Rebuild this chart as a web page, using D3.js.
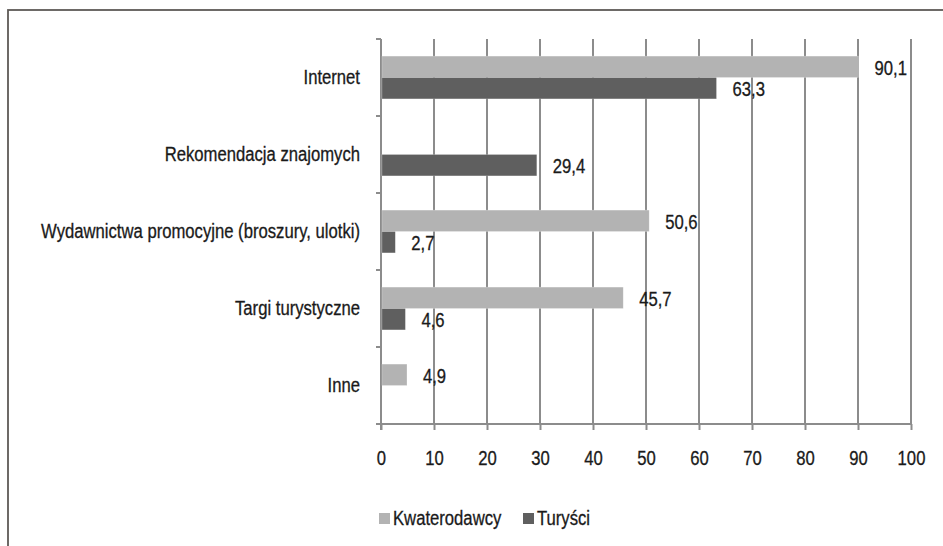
<!DOCTYPE html>
<html>
<head>
<meta charset="utf-8">
<script src="https://cdn.jsdelivr.net/npm/d3@7"></script>
<style>
  html, body { margin: 0; padding: 0; background: #fff; }
  svg { display: block; }
  text { font-family: "Liberation Sans", Arial, sans-serif; fill: #1a1a1a; stroke: #1a1a1a; stroke-width: 0.3px; }
</style>
</head>
<body>
<svg id="chart" width="943" height="546"></svg>
<script>
const categories = ["Internet", "Rekomendacja znajomych", "Wydawnictwa promocyjne (broszury, ulotki)", "Targi turystyczne", "Inne"];
const seriesNames = ["Kwaterodawcy", "Turyści"];
const kwaterodawcy = [90.1, null, 50.6, 45.7, 4.9];
const turysci = [63.3, 29.4, 2.7, 4.6, null];
const xTickValues = [0, 10, 20, 30, 40, 50, 60, 70, 80, 90, 100];

const colors = { "Kwaterodawcy": "#b3b3b3", "Turyści": "#5f5f5f" };
const SX = 0.855;    // horizontal condensing of text
const FS = 19.5;

const svg = d3.select("#chart");
const W = 943, H = 546;

// frame (right and bottom sides cropped off)
svg.append("rect")
  .attr("x", 8).attr("y", 10)
  .attr("width", W + 10).attr("height", H + 10)
  .attr("fill", "none").attr("stroke", "#5e5a57").attr("stroke-width", 1.8);

const x = d3.scaleLinear().domain([0, 100]).range([381, 911]);
const y = d3.scaleBand().domain(categories).range([39, 424]).padding(0);
const inner = d3.scaleBand().domain(seriesNames).range([0, y.bandwidth()])
  .paddingInner(0).paddingOuter(0.8);

const fmt = d3.formatLocale({ decimal: ",", thousands: " ", grouping: [3], currency: ["", ""] }).format(".1f");

const gridColor = "#8c8c8c";

// vertical gridlines
svg.append("g").selectAll("line").data(xTickValues.slice(1)).join("line")
  .attr("x1", d => x(d)).attr("x2", d => x(d))
  .attr("y1", y.range()[0]).attr("y2", y.range()[1])
  .attr("stroke", gridColor).attr("stroke-width", 2);

// bottom axis
const xAxis = svg.append("g")
  .attr("transform", `translate(0,${y.range()[1]})`)
  .call(d3.axisBottom(x).tickValues(xTickValues).tickSize(6).tickSizeOuter(0).tickPadding(21));
xAxis.select(".domain").attr("stroke", gridColor).attr("stroke-width", 2)
  .attr("d", `M${x(0) - 5},0H${x(100)}`);
xAxis.selectAll(".tick line").attr("stroke", gridColor).attr("stroke-width", 2);
xAxis.selectAll(".tick text")
  .attr("font-size", FS).attr("fill", "#1a1a1a")
  .attr("font-family", "Liberation Sans, Arial, sans-serif")
  .attr("transform", `scale(${SX},1)`);

// left axis: labels at band centers, ticks at band boundaries
const yAxis = svg.append("g")
  .attr("transform", `translate(${x(0)},0)`)
  .call(d3.axisLeft(y).tickSize(0).tickPadding(21));
yAxis.select(".domain").remove();
yAxis.selectAll(".tick text")
  .attr("font-size", FS).attr("fill", "#1a1a1a")
  .attr("font-family", "Liberation Sans, Arial, sans-serif")
  .attr("x", -21 / SX)
  .attr("transform", `scale(${SX},1)`);

const boundaries = categories.map(c => y(c)).concat([y.range()[1]]);
svg.append("g").selectAll("line").data(boundaries).join("line")
  .attr("x1", x(0) - 5).attr("x2", x(0))
  .attr("y1", d => d).attr("y2", d => d)
  .attr("stroke", gridColor).attr("stroke-width", 2);
svg.append("line")
  .attr("x1", x(0)).attr("x2", x(0))
  .attr("y1", y.range()[0]).attr("y2", y.range()[1] + 6)
  .attr("stroke", gridColor).attr("stroke-width", 2);

// bars
const barData = [];
categories.forEach((c, i) => {
  if (kwaterodawcy[i] != null) barData.push({ cat: c, s: "Kwaterodawcy", v: kwaterodawcy[i] });
  if (turysci[i] != null) barData.push({ cat: c, s: "Turyści", v: turysci[i] });
});

svg.append("g").selectAll("rect").data(barData).join("rect")
  .attr("x", x(0) + 1)
  .attr("y", d => y(d.cat) + inner(d.s))
  .attr("width", d => x(d.v) - x(0) - 1)
  .attr("height", inner.bandwidth())
  .attr("fill", d => colors[d.s])
  .attr("stroke", "#ffffff").attr("stroke-opacity", 0.35).attr("stroke-width", 0.6);

// value labels
svg.append("g").selectAll("text").data(barData).join("text")
  .attr("transform", d => `translate(${x(d.v) + 16},${y(d.cat) + inner(d.s) + inner.bandwidth() / 2 + 1}) scale(${SX},1)`)
  .attr("dy", "0.35em")
  .attr("font-size", FS)
  .text(d => fmt(d.v));

// legend
const legendItems = [
  { s: "Kwaterodawcy", sx: 379, tx: 393 },
  { s: "Turyści", sx: 523, tx: 537 }
];
const lg = svg.append("g");
legendItems.forEach(it => {
  lg.append("rect").attr("x", it.sx).attr("y", 513).attr("width", 11).attr("height", 11)
    .attr("fill", colors[it.s]);
  lg.append("text")
    .attr("transform", `translate(${it.tx},${518.5}) scale(${SX},1)`)
    .attr("dy", "0.35em").attr("font-size", FS).text(it.s);
});
</script>
</body>
</html>
